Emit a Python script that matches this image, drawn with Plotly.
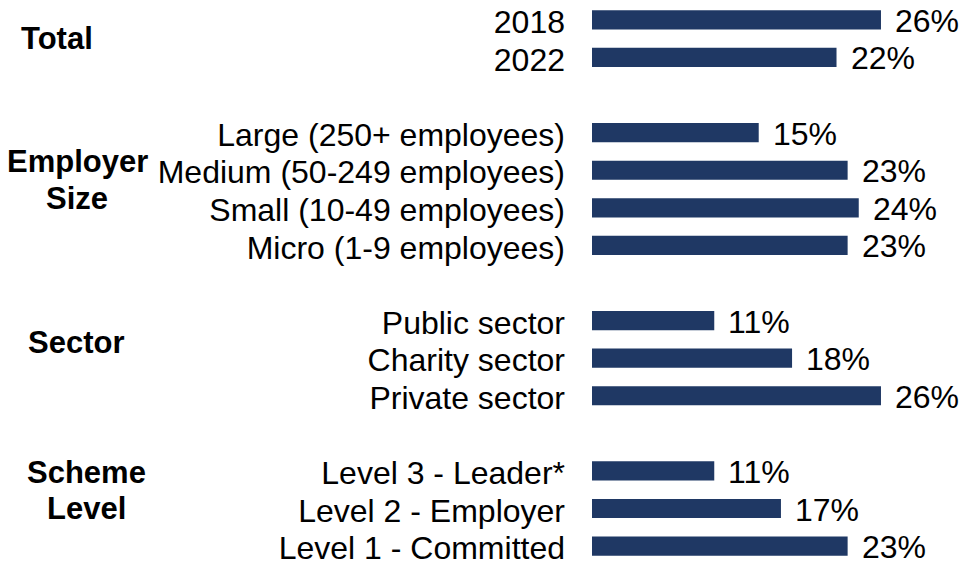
import plotly.graph_objects as go

# Share of employers, by group (percent)
group_names = ["Total", "Employer Size", "Sector", "Scheme Level"]
group_labels = [
    ["2018", "2022"],
    ["Large (250+ employees)", "Medium (50-249 employees)",
     "Small (10-49 employees)", "Micro (1-9 employees)"],
    ["Public sector", "Charity sector", "Private sector"],
    ["Level 3 - Leader*", "Level 2 - Employer", "Level 1 - Committed"],
]
group_values = [
    [26, 22],
    [15, 23, 24, 23],
    [11, 18, 26],
    [11, 17, 23],
]

W, H = 959, 566
FONT = "Liberation Sans, Arial, sans-serif"
BAR = "#1F3864"

# Row slots: one empty slot between groups
labels, values, slots = [], [], []
s = 0
for names, vals in zip(group_labels, group_values):
    for n, v in zip(names, vals):
        labels.append(n)
        values.append(v)
        slots.append(s)
        s += 1
    s += 1
last_slot = slots[-1]

fig = go.Figure()
fig.add_trace(go.Bar(
    x=values, y=slots, orientation="h", width=0.51,
    marker=dict(color=BAR, line=dict(width=0)),
    hoverinfo="skip",
))

# value labels to the right of each bar
for v, y in zip(values, slots):
    fig.add_annotation(
        x=v, y=y, xref="x", yref="y", text=f"{v}%", showarrow=False,
        xanchor="left", yanchor="middle", xshift=12, yshift=-1,
        font=dict(family=FONT, size=32, color="#000000"),
    )

# bold group headings on the left
heading_lines = [["Total"], ["Employer", "Size"], ["Sector"], ["Scheme", "Level"]]
heading_x = [57, 77, 76, 86]
heading_top = [38.5, 163, 345, 476]
line_gap = 36.5
for lines, hx, top in zip(heading_lines, heading_x, heading_top):
    for k, line in enumerate(lines):
        py = top + k * line_gap
        fig.add_annotation(
            x=hx / W, y=1 - py / H, xref="paper", yref="paper",
            text=f"<b>{line}</b>", showarrow=False,
            xanchor="center", yanchor="middle",
            font=dict(family=FONT, size=31, color="#000000"),
        )

px_per_slot = 37.857
top_pad = 20 / px_per_slot
bottom_pad = 16 / px_per_slot

fig.update_layout(
    width=W, height=H,
    margin=dict(l=0, r=0, t=0, b=0),
    paper_bgcolor="white", plot_bgcolor="white",
    showlegend=False,
    font=dict(family=FONT, size=32, color="#000000"),
    xaxis=dict(domain=[592 / W, 1], range=[0, 33.02], visible=False, fixedrange=True),
    yaxis=dict(
        range=[last_slot + bottom_pad, -top_pad],
        tickmode="array", tickvals=slots, ticktext=labels,
        showgrid=False, zeroline=False, showline=False, ticks="",
        ticklabelstandoff=26, ticklabeloverflow="allow", ticklabelshift=-2,
        tickfont=dict(family=FONT, size=32, color="#000000"),
        fixedrange=True,
    ),
)

fig.write_html("out.html")
